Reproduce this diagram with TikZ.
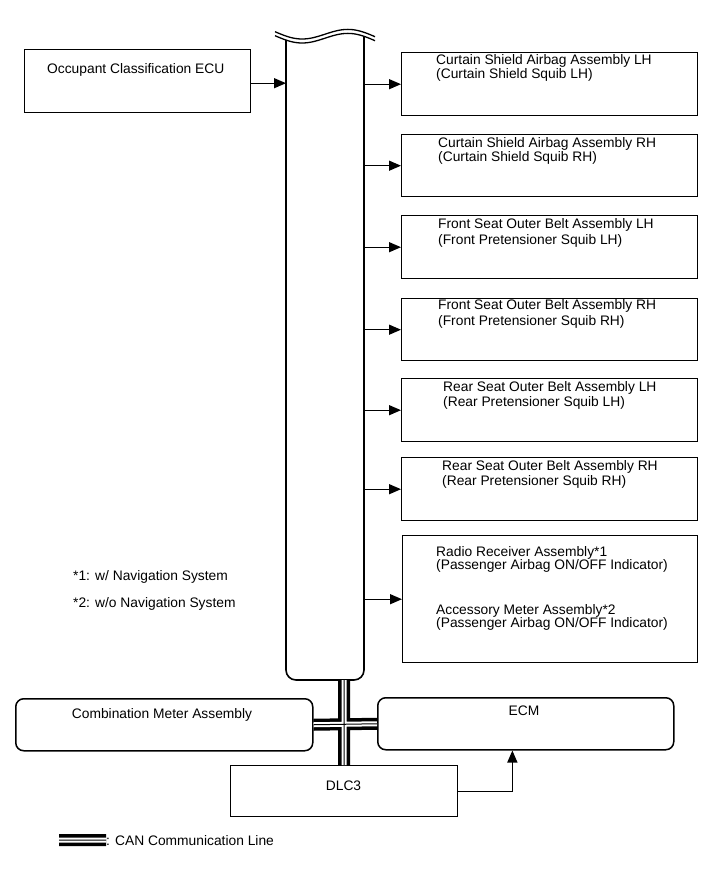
\documentclass[tikz,border=0pt]{standalone}
\usepackage{fontspec}
\setmainfont{Liberation Sans}
\usetikzlibrary{arrows.meta,calc}
\begin{document}
\begin{tikzpicture}[x=1pt,y=-1pt,
  box/.style={draw, line width=1.4pt, inner sep=0pt, anchor=north west, minimum width=296pt, minimum height=63pt},
  rbox/.style={box, line width=1.5pt, rounded corners=8pt},
  txt/.style={inner sep=0pt, anchor=base west, align=left, font=\fontsize{13.8}{13.4}\selectfont},
  txtb/.style={txt, font=\fontsize{13.8}{15.6}\selectfont},
  arr/.style={line width=1.3pt, -{Triangle[length=12pt,width=10pt]}},
  colline/.style={line width=1.6pt}]
\useasboundingbox (0,0) rectangle (713,882);
% helper for the vertical column (draws nothing)
\node[inner sep=0pt, minimum width=78pt, minimum height=644pt, anchor=south west] (bus) at (286,680) {};
% column with broken top
\draw[colline, rounded corners=10pt] (286,40) -- (286,680) -- (364,680) -- (364,36.3);
\draw[line width=1.3pt] plot[domain=275:375, samples=60, smooth] (\x,{31.7+0.05*(\x-275)+6*sin(3.6*(\x-275))});
\draw[line width=1.3pt] plot[domain=275:375, samples=60, smooth] (\x,{35.7+0.05*(\x-275)+6*sin(3.6*(\x-275))});
% left ECU
\node[box, minimum width=226pt, minimum height=63pt] (ecu) at (24,49) {};
\node[txt] (ecut) at (47,74) {Occupant Classification ECU};
% right boxes (text nodes anchored at the baseline of their last line)
\node[box] (b1) at (401,52) {};
\node[txt] (b1t) at (436,78.4) {Curtain Shield Airbag Assembly LH\\(Curtain Shield Squib LH)};
\node[box, minimum height=62pt] (b2) at (401,134) {};
\node[txt] (b2t) at (438,161.4) {Curtain Shield Airbag Assembly RH\\(Curtain Shield Squib RH)};
\node[box] (b3) at (401,215) {};
\node[txtb] (b3t) at (438,244.1) {Front Seat Outer Belt Assembly LH\\(Front Pretensioner Squib LH)};
\node[box, minimum height=62pt] (b4) at (401,298) {};
\node[txtb] (b4t) at (438,325.1) {Front Seat Outer Belt Assembly RH\\(Front Pretensioner Squib RH)};
\node[box] (b5) at (401,378) {};
\node[txtb] (b5t) at (443,406.6) {Rear Seat Outer Belt Assembly LH\\(Rear Pretensioner Squib LH)};
\node[box] (b6) at (401,457) {};
\node[txtb] (b6t) at (442,485.6) {Rear Seat Outer Belt Assembly RH\\(Rear Pretensioner Squib RH)};
\node[box, minimum width=295pt, minimum height=127pt] (b7) at (402,535) {};
\node[txt] (b7t) at (436,627.6) {Radio Receiver Assembly*1\\(Passenger Airbag ON/OFF Indicator)\\[31.4pt]Accessory Meter Assembly*2\\(Passenger Airbag ON/OFF Indicator)};
% notes
\node[txt] (n1) at (73,580) {*1: w/ Navigation System};
\node[txt] (n2) at (73,607) {*2: w/o Navigation System};
% bottom row
\node[rbox, minimum width=297pt, minimum height=52pt] (cmb) at (15,698) {};
\node[txt, anchor=base] (cmbt) at (162,718) {Combination Meter Assembly};
\node[rbox, minimum width=296pt, minimum height=52pt] (ecm) at (377,697) {};
\node[txt, anchor=base] (ecmt) at (524,715) {ECM};
\node[box, minimum width=227pt, minimum height=51pt] (dlc) at (230,765) {};
\node[txt, anchor=base] (dlct) at (343.5,790) {DLC3};
% arrows
\draw[arr] ([yshift=-2pt]ecu.east) -- ([yshift=-2pt]ecu.east -| bus.west);
\foreach \b in {b1,b2,b3,b4,b5,b6,b7} \draw[arr] (\b.west -| bus.east) -- (\b.west);
\draw[arr] (dlc.east) -| ($(ecm.south west)!0.455!(ecm.south east)$);
% CAN lines and legend
\coordinate (lg1) at (59,840);
\coordinate (lg2) at (106,840);
\foreach \w/\c in {12pt/black,5pt/white,1pt/black}
  \draw[line width=\w, draw=\c] (dlc.north |- bus.south) -- (dlc.north) (cmb.east) -- (ecm.west) (lg1) -- (lg2);
\node[txt] (lgt) at (106,845) {: CAN Communication Line};
\end{tikzpicture}
\end{document}
